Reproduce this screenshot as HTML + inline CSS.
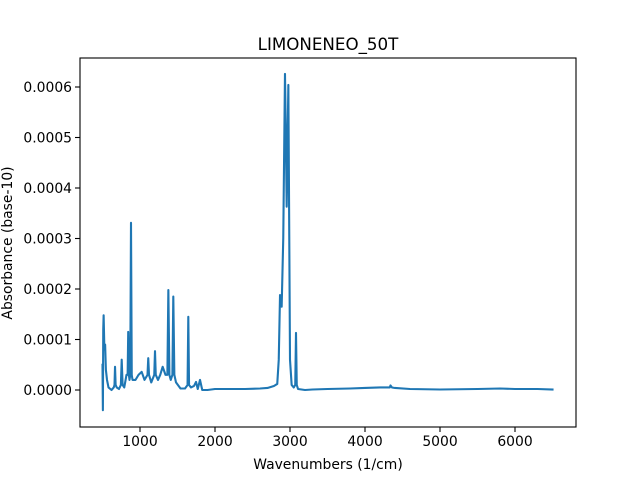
<!DOCTYPE html>
<html><head><meta charset="utf-8"><style>
body{margin:0;background:#fff;font-family:"Liberation Sans","DejaVu Sans",sans-serif}
svg text{font-family:"DejaVu Sans","Liberation Sans",sans-serif;fill:#000}
</style></head><body>
<svg id="chart" width="640" height="480" viewBox="0 0 640 480">
<rect width="640" height="480" fill="#fff"/>
<text x="328" y="50" font-size="16.7" text-anchor="middle">LIMONENEO_50T</text>
<g id="plot"></g>
<g id="xt"></g><g id="yt"></g>
<rect x="80" y="58" width="496" height="369" fill="none" stroke="#000" stroke-width="1.1"/>
<text x="328" y="469" font-size="13.9" text-anchor="middle">Wavenumbers (1/cm)</text>
<text transform="translate(12,243) rotate(-90)" font-size="13.9" text-anchor="middle">Absorbance (base-10)</text>
</svg>
<script>
const wavenumbers=[500,505,510,515,525,535,545,560,580,620,650,660,667,675,690,720,745,756,768,790,820,835,843,852,860,870,880,890,900,940,980,1022,1060,1100,1110,1120,1150,1190,1200,1210,1240,1270,1302,1340,1365,1378,1392,1410,1432,1444,1458,1480,1540,1600,1634,1644,1654,1680,1720,1747,1770,1800,1830,1900,2000,2200,2400,2600,2700,2786,2830,2850,2867,2889,2910,2933,2945,2956,2978,3000,3022,3050,3070,3080,3090,3107,3200,3300,3500,3800,4000,4200,4330,4340,4360,4400,4600,5000,5500,5800,6000,6300,6500];
const absorb=[0.00005,-0.00004,0.00012,0.000148,0.00008,0.00009,0.00004,0.00002,0.000005,0,0.000005,0.00001,0.000046,0.00001,0.000005,0.000002,0.00001,0.00006,0.00001,0.000005,0.00003,0.00003,0.000115,0.00003,0.00002,0.00003,0.000331,0.00003,0.00002,0.00002,0.00003,0.000036,0.00002,0.00003,0.000063,0.00003,0.000015,0.00003,0.000077,0.00003,0.00002,0.00003,0.000046,0.00003,0.00003,0.000198,0.00003,0.00002,0.00003,0.000185,0.00003,0.000015,0.000003,0.000003,0.00001,0.000145,0.00001,0.000005,0.000008,0.000016,0.000002,0.00002,0,0,0.000002,0.000002,0.000002,0.000003,0.000004,0.000008,0.000012,0.00006,0.000188,0.000165,0.0003,0.000626,0.0005,0.000363,0.000604,0.00006,0.00001,0.000005,0.00001,0.000113,0.00001,0.000002,0,0.000001,0.000002,0.000003,0.000004,0.000005,0.000005,0.000009,0.000005,0.000004,0.000002,0.000001,0.000002,0.000003,0.000002,0.000002,0.000001];
const xTicks=[1000,2000,3000,4000,5000,6000];
const yTicks=[0,0.0001,0.0002,0.0003,0.0004,0.0005,0.0006];
const NS='http://www.w3.org/2000/svg';
const X=v=>65+v*0.075;
const Y=v=>390-v/0.0001*50.5;
let d='';
wavenumbers.forEach((w,i)=>{d+=(i?'L':'M')+X(w).toFixed(2)+','+Y(absorb[i]).toFixed(2);});
const p=document.createElementNS(NS,'path');
p.setAttribute('d',d);p.setAttribute('fill','none');p.setAttribute('stroke','#1f77b4');p.setAttribute('stroke-width','2.1');p.setAttribute('stroke-linejoin','round');p.setAttribute('stroke-linecap','square');


document.getElementById('plot').appendChild(p);
const xt=document.getElementById('xt');
xTicks.forEach(t=>{
const l=document.createElementNS(NS,'line');l.setAttribute('x1',X(t));l.setAttribute('x2',X(t));l.setAttribute('y1',427);l.setAttribute('y2',432);l.setAttribute('stroke','#000');l.setAttribute('stroke-width','1.1');


xt.appendChild(l);
const tx=document.createElementNS(NS,'text');tx.setAttribute('x',X(t));tx.setAttribute('y',446);tx.setAttribute('font-size','13.9');tx.setAttribute('text-anchor','middle');tx.textContent=t;


xt.appendChild(tx);});
const yt=document.getElementById('yt');
yTicks.forEach(t=>{
const l=document.createElementNS(NS,'line');l.setAttribute('x1',75);l.setAttribute('x2',80);l.setAttribute('y1',Y(t));l.setAttribute('y2',Y(t));l.setAttribute('stroke','#000');l.setAttribute('stroke-width','1.1');


yt.appendChild(l);
const tx=document.createElementNS(NS,'text');tx.setAttribute('x',72);tx.setAttribute('y',Y(t)+5);tx.setAttribute('font-size','13.9');tx.setAttribute('text-anchor','end');tx.textContent=t.toFixed(4);


yt.appendChild(tx);});
</script>
</body></html>
